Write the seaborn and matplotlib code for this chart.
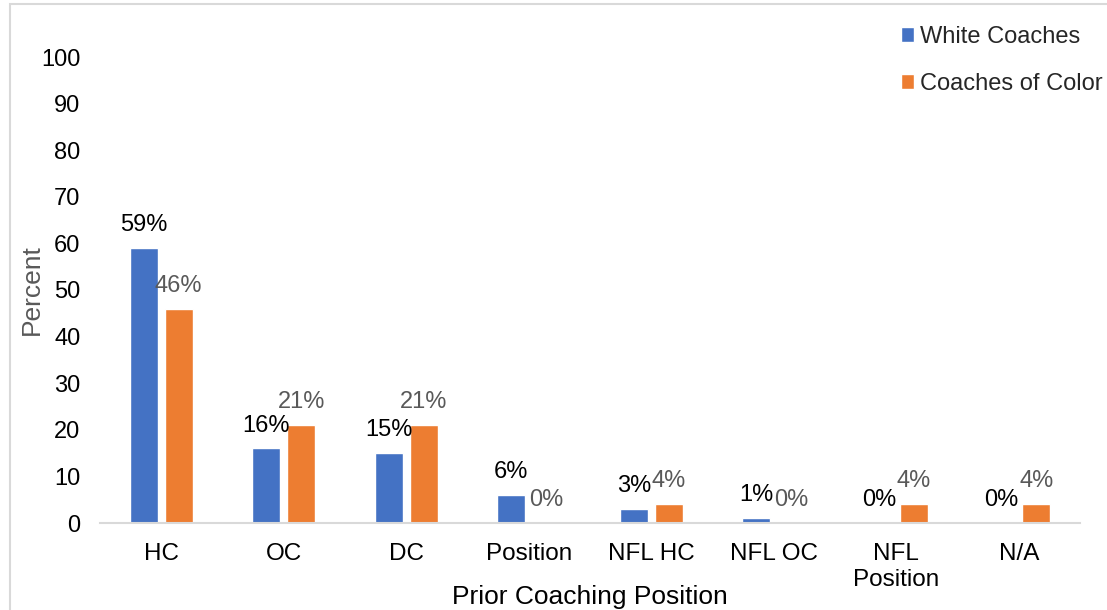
import matplotlib
matplotlib.use("Agg")
import matplotlib.pyplot as plt
from matplotlib.patches import Rectangle
import pandas as pd
import seaborn as sns

categories = ["HC", "OC", "DC", "Position", "NFL HC", "NFL OC", "NFL\nPosition", "N/A"]
white_coaches = [59, 16, 15, 6, 3, 1, 0, 0]
coaches_of_color = [46, 21, 21, 0, 4, 0, 4, 4]
series_names = ["White Coaches", "Coaches of Color"]
y_ticks = [0, 10, 20, 30, 40, 50, 60, 70, 80, 90, 100]

df = pd.DataFrame({
    "Position": categories * 2,
    "Percent": white_coaches + coaches_of_color,
    "Group": [series_names[0]] * len(categories) + [series_names[1]] * len(categories),
})

sns.set_theme(style="white")
plt.rcParams["font.family"] = ["Liberation Sans", "DejaVu Sans"]

W, H = 1107, 610
fig = plt.figure(figsize=(W / 100, H / 100), dpi=100)
ax = fig.add_axes([100 / W, (H - 523) / H, 980 / W, 466 / H])

palette = {series_names[0]: "#4472C4", series_names[1]: "#ED7D31"}
sns.barplot(data=df, x="Position", y="Percent", hue="Group", order=categories,
            hue_order=series_names, palette=palette, width=0.57, gap=0.2,
            saturation=1, ax=ax, legend=True)

# value labels above each bar
label_colors = ["black", "#595959"]
for cont, col in zip(ax.containers, label_colors):
    for bar in cont:
        h = bar.get_height()
        ax.annotate(f"{h:.0f}%", (bar.get_x() + bar.get_width() / 2, h),
                    xytext=(0, 16.5), textcoords="offset points",
                    ha="center", va="center", fontsize=17, color=col)

ax.set_ylim(0, 100)
ax.set_xlim(-0.5, len(categories) - 0.5)
ax.set_yticks(y_ticks)
ax.tick_params(axis="y", length=0, pad=14, labelsize=17, labelcolor="black")
ax.tick_params(axis="x", length=0, pad=14.5, labelsize=17.5, labelcolor="black")
for lbl in ax.get_xticklabels():
    lbl.set_linespacing(1.25)

for s in ["top", "right", "left"]:
    ax.spines[s].set_visible(False)
ax.spines["bottom"].set_color("#d9d9d9")
ax.spines["bottom"].set_linewidth(1.5)

ax.set_xlabel("Prior Coaching Position", fontsize=19, color="black")
ax.xaxis.set_label_coords(0.5, -0.134)
ax.set_ylabel("Percent", fontsize=19, color="#595959")
ax.yaxis.set_label_coords(-0.057, 0.5)

ax.legend(loc="upper left", bbox_to_anchor=(901 / W, 1 - 26 / H),
          bbox_transform=fig.transFigure, frameon=False, fontsize=17,
          handlelength=0.57, handleheight=0.57, handletextpad=0.25,
          labelspacing=1.05, borderpad=0, borderaxespad=0)

# outer chart border
fig.patches.append(Rectangle((10 / W, -0.1), 1.2, 1.1 - 4 / H, transform=fig.transFigure,
                             fill=False, edgecolor="#d9d9d9", linewidth=1.5))

fig.savefig("out.png", dpi=100)
